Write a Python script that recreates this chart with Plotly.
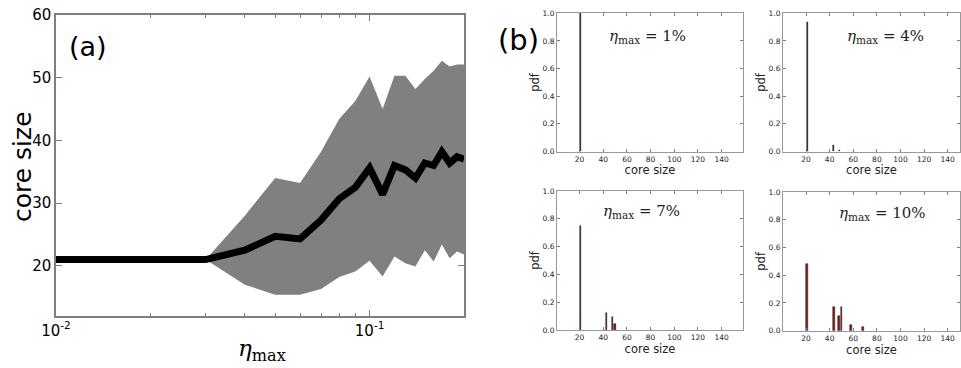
import plotly.graph_objects as go

# ---- panel (a) data ----
eta = [0.01, 0.02, 0.03, 0.04, 0.05, 0.06, 0.07, 0.08, 0.09, 0.10,
       0.11, 0.12, 0.13, 0.14, 0.15, 0.16, 0.17, 0.18, 0.19, 0.20]
mean_core = [21.0, 21.0, 21.0, 22.5, 24.7, 24.3, 27.3, 30.7, 32.5, 35.6,
             31.4, 36.0, 35.3, 34.0, 36.4, 36.0, 38.2, 36.4, 37.4, 37.0]
upper_core = [21.0, 21.0, 21.0, 28.0, 34.0, 33.2, 38.2, 43.4, 46.3, 50.2,
              45.0, 50.3, 50.3, 48.2, 49.8, 51.1, 52.7, 51.8, 52.1, 52.1]
lower_core = [21.0, 21.0, 21.0, 17.0, 15.4, 15.4, 16.3, 18.2, 19.1, 20.8,
              18.3, 21.5, 20.4, 19.9, 22.5, 20.7, 23.4, 21.2, 22.3, 21.8]

# ---- panel (b) histograms ----
sizes_1 = [21]
pdf_1 = [1.0]
sizes_4 = [21, 43, 48]
pdf_4 = [0.935, 0.048, 0.01]
sizes_7 = [21, 43, 48, 50]
pdf_7 = [0.748, 0.125, 0.096, 0.043]
sizes_10 = [21, 43.5, 48, 50, 58, 68]
pdf_10 = [0.48, 0.169, 0.106, 0.169, 0.041, 0.029]
labels_b = ["1%", "4%", "7%", "10%"]

# body margin is removed in the page (post_script), so use window pixels directly
W, H = 961, 368


def px_x(a):
    return a / W


def px_y(a):
    return 1 - a / H


def dx(a, b):
    return [px_x(a), px_x(b)]


def dy(top, bottom):
    return [px_y(bottom), px_y(top)]


fig = go.Figure()

# band
fig.add_trace(go.Scatter(
    x=eta + eta[::-1], y=upper_core + lower_core[::-1],
    fill="toself", fillcolor="#808080", line=dict(width=0, color="#808080"),
    mode="lines", hoverinfo="skip", showlegend=False, xaxis="x", yaxis="y"))
fig.add_trace(go.Scatter(
    x=eta, y=mean_core, mode="lines", line=dict(color="black", width=7),
    showlegend=False, xaxis="x", yaxis="y"))

axcol = "#7f7f7f"
tickfont_big = dict(family="DejaVu Sans", size=15, color="black")
tickfont_small = dict(family="DejaVu Sans", size=7.5, color="#222")

layout = dict(
    template="none",
    width=W, height=H, margin=dict(l=0, r=0, t=0, b=0, pad=0, autoexpand=False),
    plot_bgcolor="white", paper_bgcolor="white", showlegend=False,
    xaxis=dict(domain=dx(56, 464), type="log", range=[-2, -0.699],
               tickvals=[0.01, 0.1], ticktext=["10<sup>-2</sup>", "10<sup>-1</sup>"],
               ticks="inside", ticklen=6, tickcolor=axcol, showline=True,
               linecolor=axcol, linewidth=1.5, mirror="ticks", showgrid=False,
               zeroline=False, tickfont=tickfont_big, automargin=False,
               ticklabeloverflow="allow",
               minor=dict(tickvals=[0.02, 0.03, 0.04, 0.05, 0.06, 0.07, 0.08, 0.09, 0.2],
                          ticks="inside", ticklen=3, tickcolor=axcol, showgrid=False),
               anchor="y"),
    yaxis=dict(domain=dy(15, 316), range=[12, 60], tickvals=[20, 30, 40, 50, 60],
               ticks="inside", ticklen=6, tickcolor=axcol, showline=True,
               linecolor=axcol, linewidth=1.5, mirror="ticks", showgrid=False,
               zeroline=False, tickfont=tickfont_big, anchor="x", automargin=False,
               ticklabeloverflow="allow"),
)

small = [
    ("x2", "y2", sizes_1, pdf_1, dx(557, 743), dy(13.3, 151.5), [1, 158], "#1c241c", 0.7),
    ("x3", "y3", sizes_4, pdf_4, dx(783, 960), dy(13.3, 151.5), [0.5, 150.4], "#1c241c", 0.9),
    ("x4", "y4", sizes_7, pdf_7, dx(557, 743), dy(191, 330), [1, 158], "#6e1616", 1.1),
    ("x5", "y5", sizes_10, pdf_10, dx(783, 960), dy(192, 330.7), [0.5, 150.4], "#8b1c1c", 1.5),
]

annotations = []
for i, (xa, ya, sx, sy, xd, yd, xr, col, w) in enumerate(small):
    fig.add_trace(go.Bar(x=sx, y=sy, width=w, marker=dict(color=col, line=dict(color="#111", width=0.5)),
                         xaxis=xa, yaxis=ya, showlegend=False))
    layout["xaxis" + xa[1:]] = dict(
        domain=xd, range=xr, tickvals=[20, 40, 60, 80, 100, 120, 140],
        ticks="inside", ticklen=3, tickcolor=axcol, showline=True, linecolor="#999",
        linewidth=1, mirror="ticks", showgrid=False, zeroline=False,
        tickfont=tickfont_small, anchor=ya, automargin=False, ticklabeloverflow="allow",
        title=dict(text="core size", font=dict(family="DejaVu Sans", size=11.5, color="#222"),
                   standoff=0))
    layout["yaxis" + ya[1:]] = dict(
        domain=yd, range=[0, 1.0], tickvals=[0, 0.2, 0.4, 0.6, 0.8, 1.0],
        tickformat=".1f", ticks="inside", ticklen=3, tickcolor=axcol, showline=True,
        linecolor="#999", linewidth=1, mirror="ticks", showgrid=False, zeroline=False,
        tickfont=tickfont_small, anchor=xa, automargin=False, ticklabeloverflow="allow",
        title=dict(text="pdf", font=dict(family="DejaVu Sans", size=11.5, color="#222"),
                   standoff=0))

label_pos = [(647, 36), (885, 36), (641, 211), (882, 213)]
for (px, py), lab in zip(label_pos, labels_b):
    annotations.append(dict(
        x=px_x(px), y=px_y(py), xref="paper", yref="paper", showarrow=False,
        text="<i>η</i><sub>max</sub> = " + lab,
        font=dict(family="DejaVu Serif", size=15, color="#222"),
        xanchor="center", yanchor="middle"))

annotations += [
    dict(x=px_x(88), y=px_y(46), xref="paper", yref="paper", showarrow=False,
         text="(a)", font=dict(family="DejaVu Sans", size=27, color="black"),
         xanchor="center", yanchor="middle"),
    dict(x=px_x(518), y=px_y(40), xref="paper", yref="paper", showarrow=False,
         text="(b)", font=dict(family="DejaVu Sans", size=29, color="black"),
         xanchor="center", yanchor="middle"),
    dict(x=px_x(22), y=px_y(167), xref="paper", yref="paper", showarrow=False,
         text="core size", textangle=-90,
         font=dict(family="DejaVu Sans", size=25, color="black"),
         xanchor="center", yanchor="middle"),
    dict(x=px_x(262), y=px_y(350), xref="paper", yref="paper", showarrow=False,
         text="<i>η</i><sub>max</sub>",
         font=dict(family="DejaVu Serif", size=23, color="black"),
         xanchor="center", yanchor="middle"),
]
layout["annotations"] = annotations
layout["bargap"] = 0

fig.update_layout(**layout)
fig.write_html("out.html", config={"displayModeBar": False},
               post_script="document.body.style.margin='0';document.body.style.overflow='hidden';")
